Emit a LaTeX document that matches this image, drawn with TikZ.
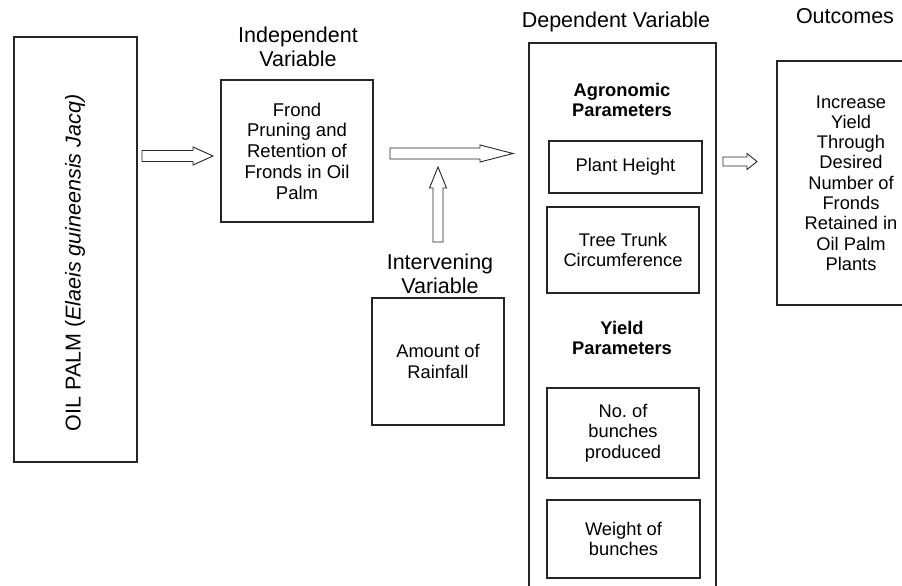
\documentclass[tikz,border=0pt]{standalone}
\usepackage{fontspec}
\setmainfont{Liberation Sans}
\tikzset{
  box/.style={draw=black!85, line width=1.1pt, inner sep=0pt, align=center, font=\fontsize{18.3}{20.3}\selectfont},
  headtxt/.style={align=center, font=\fontsize{21.5}{23.5}\selectfont, inner sep=0pt},
  boldtxt/.style={align=center, font=\fontsize{18.3}{20.3}\selectfont\bfseries, inner sep=0pt},
  blk/.style={draw=black!85, line width=0.9pt, fill=white, line join=miter},
}
% horizontal block arrow: x1, x2(tip), y, half shaft, half head, head length
\newcommand\hblk[6]{\draw[blk] (#1,#3-#4) -- (#2-#6,#3-#4) -- (#2-#6,#3-#5) -- (#2,#3) -- (#2-#6,#3+#5) -- (#2-#6,#3+#4) -- (#1,#3+#4) -- cycle;}
% vertical block arrow (pointing up): x, y bottom, y tip, half shaft, half head, head length
\newcommand\vblk[6]{\draw[blk] (#1-#4,#2) -- (#1-#4,#3+#6) -- (#1-#5,#3+#6) -- (#1,#3) -- (#1+#5,#3+#6) -- (#1+#4,#3+#6) -- (#1+#4,#2) -- cycle;}
\begin{document}
\begin{tikzpicture}[x=1pt, y=-1pt]
\clip (0,0) rectangle (902,586);
\fill[white] (0,0) rectangle (902,586);

% left box
\node[box, minimum width=123, minimum height=425] (oil) at (75.5,249.5) {};
\node[headtxt, rotate=90] (oiltxt) at (75,263) {OIL PALM (\textit{Elaeis guineensis Jacq)}};

% independent variable
\node[headtxt] (indhead) at (298,47) {Independent\\Variable};
\node[box, minimum width=152, minimum height=142, font=\fontsize{18.5}{20.8}\selectfont] (ind) at (297,151) {Frond\\Pruning and\\Retention of\\Fronds in Oil\\Palm};

% intervening variable
\node[headtxt] (inthead) at (440,274) {Intervening\\Variable};
\node[box, minimum width=132, minimum height=127] (int) at (438,361.5) {Amount of\\Rainfall};

% dependent variable
\node[headtxt] (dephead) at (616,22) {Dependent Variable};
\node[box, minimum width=187, minimum height=557] (dep) at (622.5,321.5) {};
\node[boldtxt] (agro) at (622,100) {Agronomic\\Parameters};
\node[box, minimum width=153, minimum height=52] (ph) at (625.5,167) {Plant Height};
\node[box, minimum width=152, minimum height=86] (tt) at (623,250) {Tree Trunk\\Circumference};
\node[boldtxt] (yield) at (622,338) {Yield\\Parameters};
\node[box, minimum width=152, minimum height=90] (nb) at (623,433) {No.\ of\\bunches\\produced};
\node[box, minimum width=153, minimum height=78] (wb) at (623.5,539) {Weight of\\bunches};

% outcomes
\node[headtxt] (outhead) at (845,16) {Outcomes};
\node[box, minimum width=148, minimum height=244] (out) at (851,183) {Increase\\Yield\\Through\\Desired\\Number of\\Fronds\\Retained in\\Oil Palm\\Plants};

% block arrows
\hblk{142}{213}{156}{5.5}{9}{20}
\hblk{390}{513}{153.5}{5.5}{8.5}{33}
\vblk{438}{242}{167}{5}{8.5}{21}
\hblk{723}{757}{161.5}{4.5}{8}{10}
\end{tikzpicture}
\end{document}
